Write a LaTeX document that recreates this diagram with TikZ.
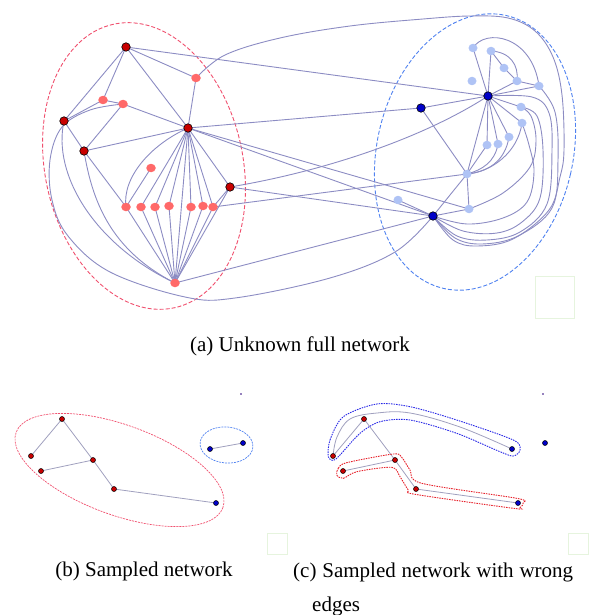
\documentclass[tikz,border=0pt]{standalone}
\usepackage{fontspec}
\setmainfont{Liberation Serif}
\usetikzlibrary{backgrounds,shapes.geometric}
\definecolor{edgec}{RGB}{140,140,195}
\definecolor{edgeb}{RGB}{160,160,190}
\definecolor{darkred}{RGB}{200,0,0}
\definecolor{lightred}{RGB}{255,105,105}
\definecolor{lightblue}{RGB}{175,195,245}
\definecolor{darkblue}{RGB}{0,0,200}
\definecolor{ellred}{RGB}{240,80,110}
\definecolor{ellblue}{RGB}{80,130,240}
\definecolor{encblue}{RGB}{40,40,230}
\definecolor{encred}{RGB}{230,30,40}
\definecolor{faint}{RGB}{230,244,222}
\definecolor{dotc}{RGB}{150,130,190}
\newcommand\myedge[2]{\draw[edge] (#1.center) -- (#2.center);}
\newcommand\myedgeb[2]{\draw[edgeb] (#1.center) -- (#2.center);}
\tikzset{
  edge/.style={draw=edgec, line width=0.9pt},
  edgeb/.style={draw=edgeb, line width=0.8pt},
  dr/.style={circle, fill=darkred, draw=black, line width=0.6pt, inner sep=0pt, minimum size=8.5pt},
  db/.style={circle, fill=darkblue, draw=black, line width=0.6pt, inner sep=0pt, minimum size=8.5pt},
  lr/.style={ellipse, fill=lightred, inner sep=0pt, minimum width=9.5pt, minimum height=8.5pt},
  lb/.style={ellipse, fill=lightblue, inner sep=0pt, minimum width=9pt, minimum height=8.5pt},
  sdr/.style={circle, fill=darkred, draw=black, line width=0.5pt, inner sep=0pt, minimum size=5pt},
  sdb/.style={circle, fill=darkblue, draw=black, line width=0.5pt, inner sep=0pt, minimum size=5pt},
  ellr/.style={draw=ellred, line width=0.9pt, dash pattern=on 4pt off 2pt},
  ellb/.style={draw=ellblue, line width=0.9pt, dash pattern=on 4pt off 2pt},
  sellr/.style={draw=ellred, line width=0.7pt, dash pattern=on 2pt off 1pt},
  sellb/.style={draw=ellblue, line width=0.7pt, dash pattern=on 2pt off 1pt},
  encb/.style={draw=encblue, line width=0.9pt, dash pattern=on 1.5pt off 1pt},
  encr/.style={draw=encred, line width=0.9pt, dash pattern=on 1.5pt off 1pt},
  capt/.style={font=\fontsize{21}{25}\selectfont, inner sep=0pt},
  fbox/.style={draw=faint, line width=0.6pt},
  tinydot/.style={fill=dotc, inner sep=0pt, minimum size=2pt}
}
\begin{document}
\begin{tikzpicture}[x=1pt,y=-1pt]
\useasboundingbox (0,0) rectangle (613,615);

% ---------- (a) nodes ----------
\node[dr] (R1) at (126,47) {};
\node[dr] (R2) at (64,121) {};
\node[dr] (R3) at (188,128) {};
\node[dr] (R4) at (84,151) {};
\node[dr] (R5) at (230,187) {};
\node[lr] (La) at (196,78) {};
\node[lr] (Lb) at (103,100) {};
\node[lr] (Lc) at (123,104) {};
\node[lr] (Ld) at (151,168) {};
\node[lr] (Q1) at (126,207) {};
\node[lr] (Q2) at (141,207) {};
\node[lr] (Q3) at (155,207) {};
\node[lr] (Q4) at (169,206) {};
\node[lr] (Q5) at (191,207) {};
\node[lr] (Q6) at (203,206) {};
\node[lr] (Q7) at (213,207) {};
\node[lr] (Lz) at (175,283) {};
\node[db] (B1) at (421,108) {};
\node[db] (B2) at (488,96) {};
\node[db] (B3) at (433,216) {};
\node[lb] (P1) at (473,48) {};
\node[lb] (P2) at (491,51) {};
\node[lb] (P3) at (504,68) {};
\node[lb] (P4) at (472,81) {};
\node[lb] (P5) at (517,81) {};
\node[lb] (P6) at (539,86) {};
\node[lb] (P7) at (521,107) {};
\node[lb] (P8) at (522,123) {};
\node[lb] (P9) at (509,137) {};
\node[lb] (P10) at (498,144) {};
\node[lb] (P11) at (487,145) {};
\node[lb] (P12) at (467,174) {};
\node[lb] (P13) at (469,209) {};
\node[lb] (P14) at (398,200) {};

\begin{scope}[on background layer]
% group ellipses
\draw[ellr, rotate around={12:(144,166)}] (144,166) ellipse [x radius=99, y radius=145];
\draw[ellb, rotate around={-13:(475,152)}] (475,152) ellipse [x radius=98, y radius=140];
% straight edges, left group
\myedge{R1}{La} \myedge{R1}{R3} \myedge{R1}{Lb} \myedge{R1}{R2} \myedge{R1}{B2}
\myedge{La}{R3}
\myedge{Lb}{R2} \myedge{Lb}{Lc} \myedge{Lc}{R3} \myedge{Lc}{R4}
\myedge{R2}{R4} \myedge{R4}{R3} \myedge{R4}{Q1} \myedge{Ld}{Q1}
\myedge{R3}{Q2} \myedge{R3}{Q3} \myedge{R3}{Q4} \myedge{R3}{Q5} \myedge{R3}{Q6} \myedge{R3}{Q7}
\myedge{R3}{Lz} \myedge{R3}{R5} \myedge{R3}{B1} \myedge{R3}{P13} \myedge{R3}{B3}
\myedge{Q1}{Lz} \myedge{Q2}{Lz} \myedge{Q3}{Lz} \myedge{Q4}{Lz} \myedge{Q5}{Lz} \myedge{Q6}{Lz} \myedge{Q7}{Lz}
\myedge{R5}{Q7} \myedge{R5}{Lz} \myedge{R5}{B3} \myedge{Q7}{P12} \myedge{Lz}{B3}
% straight edges, right group
\myedge{B1}{B2} \myedge{B1}{P12}
\myedge{B2}{P1} \myedge{B2}{P2} \myedge{P2}{P3} \myedge{P3}{P5} \myedge{B2}{P5} \myedge{B2}{P6} \myedge{P5}{P6}
\myedge{B2}{P7} \myedge{B2}{P8} \myedge{B2}{P9} \myedge{B2}{P10} \myedge{B2}{P11} \myedge{B2}{P12}
\myedge{P11}{P12} \myedge{P12}{P13} \myedge{P12}{B3} \myedge{P13}{B3} \myedge{P14}{B3}
% curved edges
\draw[edge] (R3.center) .. controls (150,145) and (122,178) .. (Q1.center);
\draw[edge] (R5.center) .. controls (320,172) and (420,140) .. (B2.center);
\draw[edge] (R2.center) .. controls (52,175) and (95,245) .. (Lz.center);
\draw[edge] (R4.center) .. controls (92,200) and (110,250) .. (Lz.center);
\draw[edge] plot[smooth, tension=0.6] coordinates {(Lc.center) (90,110) (62,127) (50,160) (52,200) (68,236) (110,272) (185,297) (235,298) (330,278) (395,252) (B3.center)};
\draw[edge] plot[smooth, tension=0.6] coordinates {(La.center) (225,55) (280,38) (350,26) (423,19) (470,16) (508,18) (535,31) (553,57) (562,95) (564,150) (560,177) (549,210) (513,239) (477,246) (453,240) (B3.center)};
\draw[edge] (P2.center) .. controls (510,52) and (519,65) .. (P5.center);
\draw[edge] (P1.center) .. controls (485,28) and (532,35) .. (P6.center);
\draw[edge] plot[smooth, tension=0.6] coordinates {(B3.center) (467,224) (503,218) (527,202) (534,172) (529,145) (P8.center)};
\draw[edge] plot[smooth, tension=0.6] coordinates {(P13.center) (503,193) (530,167) (536,140) (531,116) (P7.center)};
\draw[edge] plot[smooth, tension=0.6] coordinates {(B3.center) (463,231) (497,233) (522,222) (540,198) (543,150) (537,116) (P7.center)};
\draw[edge] plot[smooth, tension=0.6] coordinates {(B3.center) (457,236) (487,240) (520,232) (547,204) (552,150) (549,113) (532,97) (B2.center)};
\draw[edge] plot[smooth, tension=0.6] coordinates {(B3.center) (455,238) (482,244) (518,236) (552,208) (558,160) (555,112) (P6.center)};
\draw[edge] (P10.center) .. controls (495,162) and (482,170) .. (P12.center);
\draw[edge] (P9.center) .. controls (505,162) and (487,172) .. (P12.center);
\draw[edge] (P8.center) .. controls (518,152) and (492,172) .. (P12.center);
\end{scope}

\draw[fbox] (535,276) rectangle (574,318);
\node[capt, anchor=base] (capa) at (300,351) {(a) Unknown full network};

% ---------- (b) ----------
\node[sdr] (b1) at (62,419) {};
\node[sdr] (b2) at (31,456) {};
\node[sdr] (b3) at (41,471) {};
\node[sdr] (b4) at (93,460) {};
\node[sdr] (b5) at (114,489) {};
\node[sdb] (b6) at (216,503) {};
\node[sdb] (b7) at (210,449) {};
\node[sdb] (b8) at (243,443) {};
\begin{scope}[on background layer]
\draw[sellr, rotate around={-20:(119.5,470)}] (119.5,470) ellipse [x radius=110, y radius=45];
\draw[sellb, rotate around={-5:(226.5,445)}] (226.5,445) ellipse [x radius=26.5, y radius=18];
\myedgeb{b1}{b2} \myedgeb{b1}{b4} \myedgeb{b3}{b4} \myedgeb{b4}{b5} \myedgeb{b5}{b6} \myedgeb{b7}{b8}
\end{scope}
\node[tinydot] (dotb) at (241,394) {};
\draw[fbox] (267,533) rectangle (287,554);
\node[capt, anchor=base] (capb) at (144,576) {(b) Sampled network};

% ---------- (c) ----------
\node[sdr] (c1) at (364,419) {};
\node[sdr] (c2) at (333,456) {};
\node[sdr] (c3) at (343,471) {};
\node[sdr] (c4) at (395,460) {};
\node[sdr] (c5) at (416,489) {};
\node[sdb] (c6) at (518,503) {};
\node[sdb] (c7) at (512,449) {};
\node[sdb] (c8) at (545,443) {};
\begin{scope}[on background layer]
\myedgeb{c1}{c2} \myedgeb{c1}{c4} \myedgeb{c3}{c4} \myedgeb{c4}{c5} \myedgeb{c5}{c6}
\draw[edgeb] plot[smooth, tension=0.6] coordinates {(c2.center) (337,437) (350,419) (377,413) (410,413) (460,427) (c7.center)};
\draw[encb] plot[smooth cycle, tension=0.5] coordinates {(328.3,456.7) (330,440) (343.3,416.7) (376.7,404) (410,406.7) (456.7,420) (513.3,440) (520,450) (513.3,456) (500,451.7) (456.7,433.3) (410,420) (380,421.7) (360,433.3) (340,455) (333.3,460.5)};
\draw[encr] plot[smooth cycle, tension=0.5] coordinates {(336.7,475) (338.3,468.3) (346.7,462.7) (393.3,454) (401.7,457.3) (410,470) (421.7,483.3) (516.7,498.3) (523.3,502.7) (520,507.7) (513.3,508.3) (415,494.3) (408.3,490) (400,476.7) (391.7,467.3) (356.7,471.7) (343.3,478.3)};
\end{scope}
\node[tinydot] (dotc) at (543,394) {};
\draw[fbox] (568,533) rectangle (588,554);
\node[capt, anchor=base west] (capc) at (293,577) {\makebox[280pt][s]{(c) Sampled network with wrong}};
\node[capt, anchor=base west] (capc2) at (312,611) {edges};
\end{tikzpicture}
\end{document}
